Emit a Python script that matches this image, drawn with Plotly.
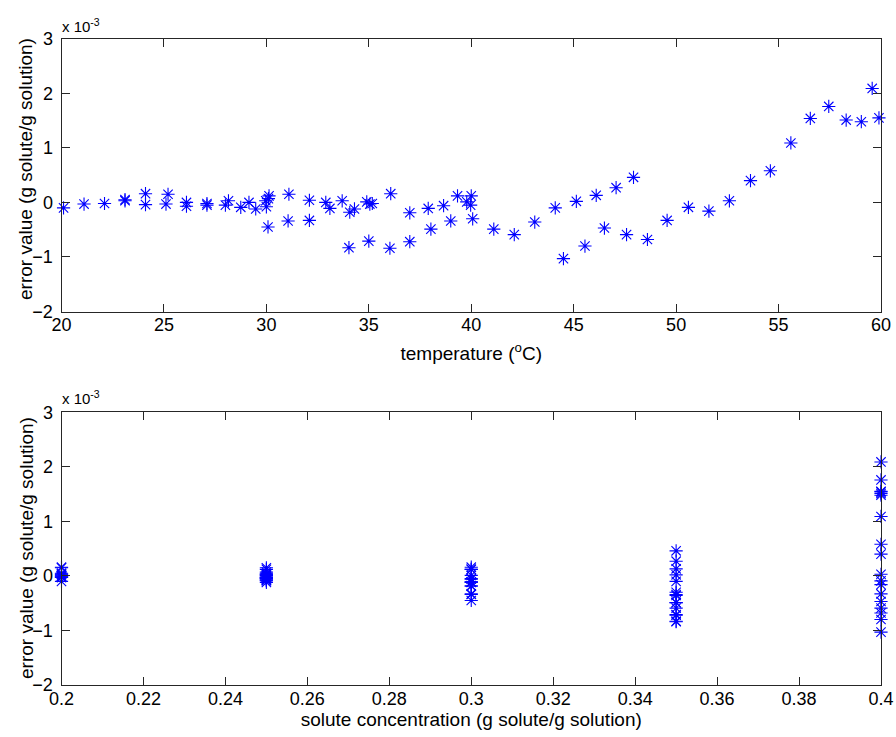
import plotly.graph_objects as go

# ---- data (error values in units of 1e-3 g solute/g solution) ----
temp_c20 = [20.1, 21.1, 22.1, 23.1, 24.1, 25.2, 26.1, 27.1, 28.15, 29.15, 29.97]
err_c20 = [-0.10, -0.03, -0.02, 0.05, 0.16, 0.15, 0.00, -0.02, 0.03, 0.00, 0.03]

temp_c25 = [23.1, 24.1, 25.1, 26.1, 27.1, 28.0, 28.75, 29.48, 30.0, 30.13, 30.1,
            31.1, 32.1, 32.9, 33.7, 34.9, 35.05, 35.17]
err_c25 = [0.03, -0.04, -0.03, -0.07, -0.05, -0.05, -0.09, -0.12, -0.08, 0.12, 0.07,
           0.15, 0.04, 0.00, 0.03, 0.01, -0.03, -0.02]

temp_c30 = [30.08, 31.06, 32.1, 33.1, 34.07, 34.3, 36.07, 37.0, 37.9, 38.65,
            39.33, 39.78, 40.0, 39.97]
err_c30 = [-0.45, -0.34, -0.33, -0.11, -0.18, -0.12, 0.16, -0.19, -0.11, -0.06,
           0.12, 0.01, 0.12, -0.05]

temp_c35 = [34.03, 35.0, 36.03, 37.0, 38.03, 39.0, 40.07, 41.1, 42.1, 43.1,
            44.1, 45.13, 46.1, 47.07, 47.92]
err_c35 = [-0.83, -0.71, -0.84, -0.72, -0.49, -0.34, -0.30, -0.49, -0.59, -0.36,
           -0.10, 0.02, 0.13, 0.27, 0.46]

temp_c40 = [44.5, 45.55, 46.5, 47.58, 48.6, 49.56, 50.6, 51.6, 52.6, 53.63,
            54.6, 55.6, 56.55, 57.45, 58.3, 59.04, 59.57, 59.9]
err_c40 = [-1.03, -0.80, -0.47, -0.59, -0.68, -0.33, -0.09, -0.16, 0.03, 0.40,
           0.58, 1.09, 1.54, 1.76, 1.51, 1.48, 2.09, 1.55]

concentrations = [0.20, 0.25, 0.30, 0.35, 0.40]
temps = [temp_c20, temp_c25, temp_c30, temp_c35, temp_c40]
errs = [err_c20, err_c25, err_c30, err_c35, err_c40]

temp_ticks = [20, 25, 30, 35, 40, 45, 50, 55, 60]
conc_ticks = [0.2, 0.22, 0.24, 0.26, 0.28, 0.3, 0.32, 0.34, 0.36, 0.38, 0.4]
conc_ticktext = ["0.2", "0.22", "0.24", "0.26", "0.28", "0.3", "0.32", "0.34", "0.36", "0.38", "0.4"]
err_ticks = [-2, -1, 0, 1, 2, 3]

x_title_top = "temperature (<sup>o</sup>C)"
x_title_bottom = "solute concentration (g solute/g solution)"
y_title = "error value (g solute/g solution)"
scale_label = "x 10<sup>-3</sup>"

# ---- build flat arrays ----
all_t, all_c, all_e = [], [], []
for c, ts, es in zip(concentrations, temps, errs):
    all_t += ts
    all_e += es
    all_c += [c] * len(ts)

W, H = 896, 737
FONT = "Liberation Sans, Arial, Helvetica, sans-serif"
BLUE = "#0000ff"
AX = "#262626"
TICK_FS = 18
TITLE_FS = 19

marker = dict(symbol="asterisk-open", size=11, color=BLUE,
              line=dict(color=BLUE, width=1.1))

fig = go.Figure()
fig.add_trace(go.Scatter(x=all_t, y=all_e, mode="markers", marker=marker,
                         xaxis="x", yaxis="y", cliponaxis=False, showlegend=False))
fig.add_trace(go.Scatter(x=all_c, y=all_e, mode="markers", marker=marker,
                         xaxis="x2", yaxis="y2", cliponaxis=False, showlegend=False))

xd = [61.5 / W, 881 / W]
top_y = [(H - 311.5) / H, (H - 38.8) / H]
bot_y = [(H - 685) / H, (H - 412.3) / H]

common = dict(showline=True, linecolor=AX, linewidth=1, mirror="ticks",
              ticks="inside", ticklen=8, tickcolor=AX, showgrid=False,
              zeroline=False, automargin=False,
              tickfont=dict(family=FONT, size=TICK_FS, color="black"))

fig.update_layout(
    width=W, height=H,
    margin=dict(l=0, r=0, t=0, b=0),
    paper_bgcolor="white", plot_bgcolor="white",
    font=dict(family=FONT, size=TICK_FS, color="black"),
    xaxis=dict(domain=xd, anchor="y", range=[20, 60], tickvals=temp_ticks,
               ticklabelstandoff=-3,
               title=dict(text=x_title_top, standoff=12,
                          font=dict(family=FONT, size=TITLE_FS)), **common),
    yaxis=dict(domain=top_y, anchor="x", range=[-2, 3], tickvals=err_ticks,
               ticklabelstandoff=4, **common),
    xaxis2=dict(domain=xd, anchor="y2", range=[0.2, 0.4], tickvals=conc_ticks,
                ticktext=conc_ticktext, ticklabelstandoff=-3,
                title=dict(text=x_title_bottom, standoff=5,
                           font=dict(family=FONT, size=TITLE_FS)), **common),
    yaxis2=dict(domain=bot_y, anchor="x2", range=[-2, 3], tickvals=err_ticks,
                ticklabelstandoff=4, **common),
    annotations=[
        dict(text=y_title, xref="paper", yref="paper", textangle=-90,
             x=26 / W, y=(H - 169) / H, xanchor="center", yanchor="middle",
             showarrow=False, font=dict(family=FONT, size=TITLE_FS, color="black")),
        dict(text=y_title, xref="paper", yref="paper", textangle=-90,
             x=26 / W, y=(H - 548) / H, xanchor="center", yanchor="middle",
             showarrow=False, font=dict(family=FONT, size=TITLE_FS, color="black")),
        dict(text=scale_label, xref="paper", yref="paper",
             x=60 / W, y=(H - 37) / H, xanchor="left", yanchor="bottom",
             showarrow=False, font=dict(family=FONT, size=15, color="black")),
        dict(text=scale_label, xref="paper", yref="paper",
             x=60 / W, y=(H - 409) / H, xanchor="left", yanchor="bottom",
             showarrow=False, font=dict(family=FONT, size=15, color="black")),
    ],
)

fig.write_html("out.html", config={"displayModeBar": False},
               post_script="document.body.style.margin='0';document.body.style.padding='0';")
